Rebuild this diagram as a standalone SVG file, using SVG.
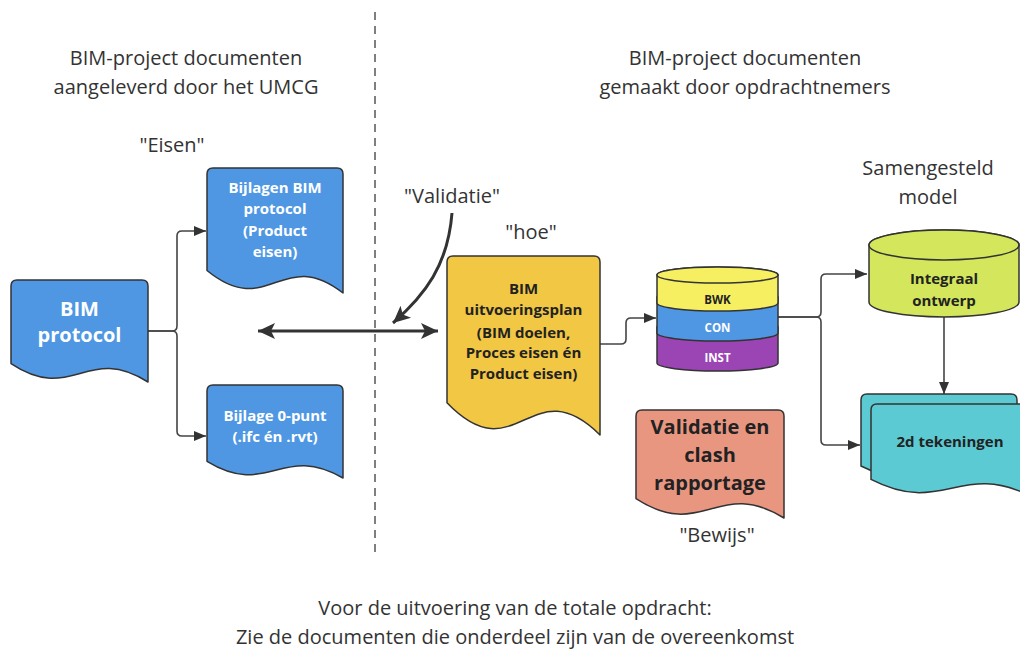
<svg xmlns="http://www.w3.org/2000/svg" width="1020" height="650" viewBox="0 0 1020 650">
<defs>
<style>
.lbl{font-family:"Open Sans","Liberation Sans",sans-serif;font-size:20px;fill:#333;text-anchor:middle}
.bw{font-family:"Open Sans","Liberation Sans",sans-serif;font-weight:bold;fill:#fff;text-anchor:middle}
.bd{font-family:"Open Sans","Liberation Sans",sans-serif;font-weight:bold;fill:#222;text-anchor:middle}
.shape{stroke:#333;stroke-width:1.5;stroke-linejoin:round}
.con{fill:none;stroke:#444;stroke-width:1.6}
.thick{fill:none;stroke:#333;stroke-width:3}
</style>
<marker id="ah" markerUnits="userSpaceOnUse" markerWidth="13" markerHeight="12" refX="12" refY="6" orient="auto"><path d="M0,1 L12,6 L0,11 Z" fill="#333"/></marker>
<marker id="ahT" markerUnits="userSpaceOnUse" markerWidth="19" markerHeight="18" refX="17" refY="9" orient="auto-start-reverse"><path d="M0,1 L17,9 L0,17 L4,9 Z" fill="#333"/></marker>
</defs>
<rect width="1020" height="650" fill="#fff"/>

<line x1="375" y1="12" x2="375" y2="556" stroke="#555" stroke-width="1.5" stroke-dasharray="8 6"/>

<g id="headers">
<text class="lbl" x="186" y="65">BIM-project documenten</text>
<text class="lbl" x="186" y="94">aangeleverd door het UMCG</text>
<text class="lbl" x="745" y="65">BIM-project documenten</text>
<text class="lbl" x="745" y="94">gemaakt door opdrachtnemers</text>
<text class="lbl" x="172" y="152">"Eisen"</text>
<text class="lbl" x="452" y="203">"Validatie"</text>
<text class="lbl" x="531" y="239">"hoe"</text>
<text class="lbl" x="928" y="175">Samengesteld</text>
<text class="lbl" x="928" y="204">model</text>
<text class="lbl" x="717" y="542">"Bewijs"</text>
<text class="lbl" x="515" y="615">Voor de uitvoering van de totale opdracht:</text>
<text class="lbl" x="515" y="644">Zie de documenten die onderdeel zijn van de overeenkomst</text>
</g>

<g id="connectors">
<path class="con" d="M148,331 H172 Q177,331 177,326 V236 Q177,231 182,231 H206" marker-end="url(#ah)"/>
<path class="con" d="M148,331 H172 Q177,331 177,336 V431 Q177,436 182,436 H206" marker-end="url(#ah)"/>
<path class="thick" d="M258,331 H438" marker-start="url(#ahT)" marker-end="url(#ahT)"/>
<path class="thick" d="M452,213 C448,265 425,295 393,323" marker-end="url(#ahT)"/>
<path class="con" d="M600,344 H621 Q626,344 626,339 V323 Q626,318 631,318 H656" marker-end="url(#ah)"/>
<path class="con" d="M778,317 H816 Q821,317 821,312 V279 Q821,274 826,274 H867" marker-end="url(#ah)"/>
<path class="con" d="M778,317 H816 Q821,317 821,322 V440 Q821,445 826,445 H860" marker-end="url(#ah)"/>
<path class="con" d="M944,317 V394" marker-end="url(#ah)"/>
</g>

<g id="bim-protocol">
<path class="shape" fill="#4f97e3" d="M11,286 Q11,280 17,280 H142 Q148,280 148,286 V382 C86.4,343.2 72.7,404.4 11,363.6 Z"/>
<text class="bw" font-size="20" x="79.5" y="316">BIM</text>
<text class="bw" font-size="20" x="79.5" y="342">protocol</text>
</g>

<g id="bijlagen">
<path class="shape" fill="#4f97e3" d="M207,174 Q207,168 213,168 H337 Q343,168 343,174 V293 C281.8,245.5 268.2,320.5 207,270.5 Z"/>
<text class="bw" font-size="15" x="275" y="193">Bijlagen BIM</text>
<text class="bw" font-size="15" x="275" y="214">protocol</text>
<text class="bw" font-size="15" x="275" y="236">(Product</text>
<text class="bw" font-size="15" x="275" y="257">eisen)</text>
</g>

<g id="bijlage-0punt">
<path class="shape" fill="#4f97e3" d="M207,391 Q207,385 213,385 H337 Q343,385 343,391 V478 C281.8,442.7 268.2,498.5 207,461.3 Z"/>
<text class="bw" font-size="15" x="275" y="421">Bijlage 0-punt</text>
<text class="bw" font-size="15" x="275" y="442">(.ifc én .rvt)</text>
</g>

<g id="bim-uitvoeringsplan">
<path class="shape" fill="#f2c744" d="M447,262 Q447,256 453,256 H594 Q600,256 600,262 V435 C531.2,367 515.9,474.4 447,402.8 Z"/>
<text class="bd" font-size="15" x="523.5" y="294">BIM</text>
<text class="bd" font-size="15" x="523.5" y="315">uitvoeringsplan</text>
<text class="bd" font-size="15" x="523.5" y="338">(BIM doelen,</text>
<text class="bd" font-size="15" x="523.5" y="358">Proces eisen én</text>
<text class="bd" font-size="15" x="523.5" y="379">Product eisen)</text>
</g>

<g id="models-stack">
<path class="shape" fill="#9b45b5" d="M657,327 A60.5,8 0 0 1 778,327 V363 A60.5,8 0 0 1 657,363 Z"/>
<path class="shape" fill="#4f97e3" d="M657,297 A60.5,8 0 0 1 778,297 V333 A60.5,8 0 0 1 657,333 Z"/>
<path class="shape" fill="#f7ef62" d="M657,275 A60.5,8 0 0 1 778,275 V303 A60.5,8 0 0 1 657,303 Z"/>
<ellipse class="shape" fill="#f7ef62" cx="717.5" cy="275" rx="60.5" ry="8"/>
<text class="bd" font-size="11.5" x="717.5" y="304">BWK</text>
<text class="bw" font-size="11.5" x="717.5" y="332">CON</text>
<text class="bw" font-size="11.5" x="717.5" y="362">INST</text>
</g>

<g id="integraal-ontwerp">
<path class="shape" fill="#d3e65c" d="M869,245 A75,15 0 0 1 1019,245 V302 A75,15 0 0 1 869,302 Z"/>
<ellipse class="shape" fill="#d3e65c" cx="944" cy="245" rx="75" ry="15"/>
<text class="bd" font-size="15" x="944" y="284">Integraal</text>
<text class="bd" font-size="15" x="944" y="306">ontwerp</text>
</g>

<g id="tekeningen">
<path class="shape" fill="#5ccad3" d="M861,400 Q861,394 867,394 H1011 Q1017,394 1017,400 V482 C946.8,448.6 931.2,501.4 861,466 Z"/>
<path class="shape" fill="#5ccad3" d="M871,410 Q871,404 877,404 H1025 Q1031,404 1031,410 V496 C959,461 943,516.2 871,479.4 Z"/>
<text class="bd" font-size="15" x="950" y="447">2d tekeningen</text>
</g>

<g id="validatie-clash">
<path class="shape" fill="#e99681" d="M636,416 Q636,410 642,410 H778 Q784,410 784,416 V518 C717.4,477 702.6,541.8 636,498.6 Z"/>
<text class="bd" font-size="20" x="710" y="434">Validatie en</text>
<text class="bd" font-size="20" x="710" y="462">clash</text>
<text class="bd" font-size="20" x="710" y="490">rapportage</text>
</g>
</svg>
